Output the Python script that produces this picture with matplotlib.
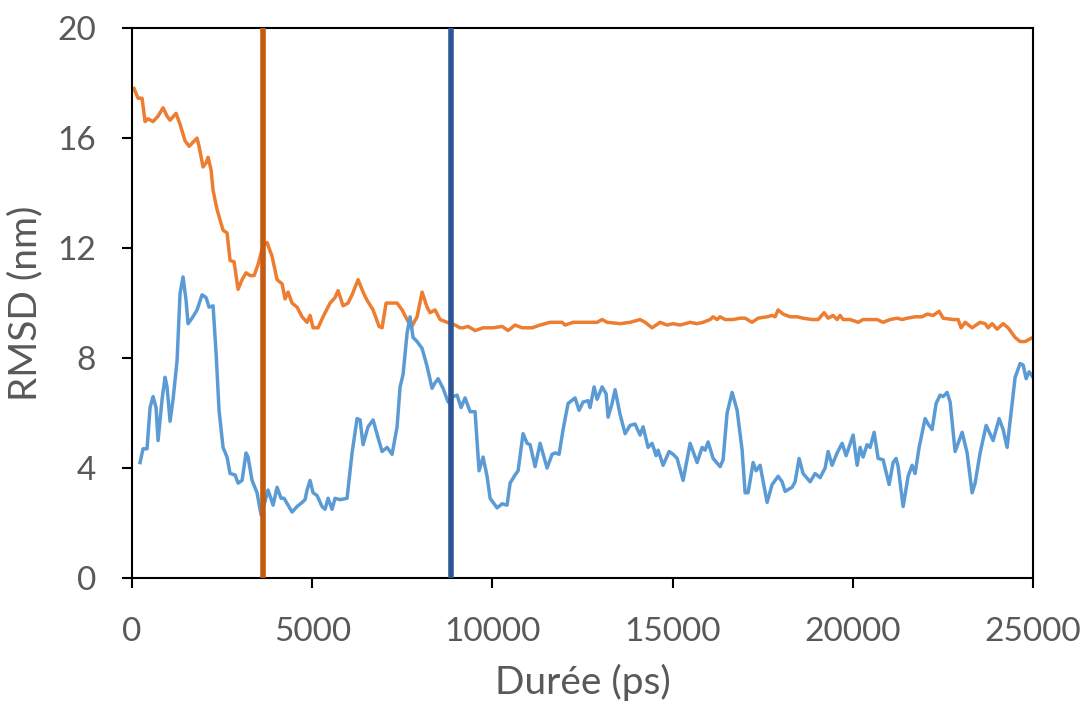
import matplotlib
matplotlib.use('Agg')
from matplotlib import pyplot as plt

# RMSD over time
orange_t = [55, 167, 278, 361, 444, 583, 722, 860, 971, 1055, 1221, 1332,
            1471, 1582, 1693, 1804, 1859, 1970, 2054, 2109, 2192, 2248, 2359,
            2525, 2636, 2720, 2831, 2942, 3053, 3164, 3275, 3386, 3497, 3635,
            3746, 3885, 4024, 4163, 4246, 4329, 4440, 4579, 4718, 4856, 4940,
            5023, 5162, 5300, 5495, 5633, 5717, 5855, 5994, 6105, 6272, 6410,
            6521, 6688, 6854, 6938, 7049, 7160, 7354, 7493, 7631, 7742, 7909,
            8048, 8186, 8270, 8408, 8547, 8741, 8963, 9102, 9185, 9324, 9518,
            9740, 10018, 10268, 10434, 10628, 10823, 11100, 11322, 11600,
            11933, 12016, 12238, 12626, 12904, 13043, 13181, 13542, 13820,
            14097, 14236, 14430, 14652, 14846, 15013, 15207, 15485, 15679,
            15845, 16040, 16123, 16234, 16317, 16456, 16678, 16872, 17011,
            17205, 17372, 17621, 17760, 17843, 17927, 18065, 18260, 18454,
            18620, 18870, 19037, 19203, 19314, 19453, 19564, 19647, 19730,
            19925, 20147, 20285, 20480, 20674, 20840, 21035, 21229, 21368,
            21506, 21728, 21923, 22061, 22228, 22394, 22505, 22783, 22922,
            23005, 23116, 23310, 23532, 23671, 23754, 23865, 24004, 24170,
            24309, 24503, 24642, 24781, 24920, 25000]
orange_rmsd = [17.8, 17.45, 17.45, 16.6, 16.7, 16.6, 16.8, 17.1, 16.8, 16.65,
               16.9, 16.5, 15.9, 15.7, 15.85, 16.0, 15.7, 14.95, 15.1, 15.3,
               14.85, 14.1, 13.4, 12.65, 12.55, 11.55, 11.5, 10.5, 10.85, 11.1,
               11.0, 11.0, 11.4, 12.1, 12.2, 11.7, 10.85, 10.7, 10.15, 10.4,
               10.0, 9.85, 9.5, 9.3, 9.55, 9.1, 9.1, 9.5, 10.0, 10.2, 10.45,
               9.9, 10.0, 10.3, 10.85, 10.4, 10.1, 9.75, 9.15, 9.1, 10.0, 10.0,
               10.0, 9.75, 9.4, 9.1, 9.5, 10.4, 9.85, 9.65, 9.75, 9.4, 9.3,
               9.2, 9.1, 9.1, 9.15, 9.0, 9.1, 9.1, 9.15, 9.0, 9.2, 9.1, 9.1,
               9.2, 9.3, 9.3, 9.2, 9.3, 9.3, 9.3, 9.4, 9.3, 9.25, 9.3, 9.4,
               9.3, 9.1, 9.3, 9.2, 9.25, 9.2, 9.3, 9.25, 9.3, 9.4, 9.5, 9.4,
               9.5, 9.4, 9.4, 9.45, 9.45, 9.3, 9.45, 9.5, 9.55, 9.5, 9.75,
               9.6, 9.5, 9.5, 9.45, 9.4, 9.4, 9.65, 9.45, 9.55, 9.4, 9.55,
               9.4, 9.4, 9.3, 9.4, 9.4, 9.4, 9.3, 9.4, 9.45, 9.4, 9.45, 9.5,
               9.5, 9.6, 9.55, 9.7, 9.45, 9.4, 9.4, 9.1, 9.3, 9.1, 9.3, 9.25,
               9.1, 9.25, 9.05, 9.25, 9.1, 8.75, 8.6, 8.6, 8.7, 8.75]

blue_t = [222, 305, 416, 500, 583, 666, 722, 833, 916, 971, 1055, 1138, 1249,
          1332, 1415, 1499, 1554, 1665, 1804, 1943, 2054, 2137, 2248, 2331,
          2414, 2525, 2636, 2720, 2858, 2942, 3053, 3164, 3219, 3330, 3469,
          3580, 3691, 3774, 3913, 4024, 4135, 4218, 4440, 4579, 4718, 4801,
          4856, 4940, 5023, 5134, 5273, 5356, 5439, 5550, 5633, 5772, 5966,
          6105, 6244, 6327, 6410, 6549, 6688, 6827, 6938, 7076, 7215, 7354,
          7437, 7520, 7631, 7715, 7798, 7909, 8048, 8186, 8325, 8408, 8492,
          8630, 8769, 8908, 9019, 9130, 9241, 9380, 9518, 9629, 9740, 9851,
          9935, 10129, 10268, 10406, 10490, 10628, 10712, 10850, 10961, 11045,
          11183, 11322, 11516, 11655, 11738, 11849, 11960, 12099, 12293,
          12404, 12515, 12654, 12710, 12821, 12904, 13043, 13154, 13209,
          13320, 13403, 13542, 13681, 13820, 13958, 14097, 14180, 14319,
          14430, 14541, 14597, 14735, 14902, 15013, 15124, 15290, 15485,
          15679, 15818, 15901, 15984, 16123, 16317, 16400, 16511, 16650,
          16789, 16928, 17011, 17094, 17233, 17316, 17427, 17621, 17760,
          17927, 18038, 18121, 18315, 18398, 18509, 18620, 18815, 18953,
          19092, 19231, 19314, 19425, 19564, 19703, 19814, 20008, 20119,
          20202, 20285, 20396, 20480, 20591, 20702, 20840, 21007, 21118,
          21201, 21257, 21395, 21534, 21645, 21728, 21839, 22006, 22089,
          22200, 22311, 22422, 22505, 22616, 22700, 22838, 23033, 23171,
          23310, 23393, 23532, 23699, 23893, 24059, 24170, 24281, 24420,
          24503, 24642, 24725, 24809, 24892, 25000]
blue_rmsd = [4.2, 4.7, 4.7, 6.2, 6.6, 6.2, 5.0, 6.5, 7.3, 6.95, 5.7, 6.5, 7.9,
             10.35, 10.95, 10.1, 9.25, 9.45, 9.75, 10.3, 10.2, 9.85, 9.9, 8.2,
             6.1, 4.75, 4.4, 3.8, 3.75, 3.45, 3.55, 4.55, 4.4, 3.55, 3.1, 2.3,
             2.8, 3.2, 2.65, 3.3, 2.9, 2.9, 2.4, 2.6, 2.75, 2.85, 3.2, 3.55,
             3.1, 3.0, 2.6, 2.5, 2.9, 2.5, 2.9, 2.85, 2.9, 4.55, 5.8, 5.75,
             4.85, 5.5, 5.75, 5.1, 4.6, 4.75, 4.5, 5.5, 6.95, 7.4, 8.9, 9.5,
             8.75, 8.6, 8.35, 7.7, 6.9, 7.1, 7.25, 6.9, 6.4, 6.6, 6.65, 6.2,
             6.55, 6.05, 6.05, 3.9, 4.4, 3.7, 2.9, 2.55, 2.7, 2.65, 3.45, 3.75,
             3.9, 5.25, 4.9, 4.85, 4.05, 4.9, 4.0, 4.5, 4.55, 4.5, 5.4, 6.35,
             6.55, 6.1, 6.4, 6.45, 6.2, 6.95, 6.5, 6.95, 6.7, 5.85, 6.35, 6.85,
             5.95, 5.25, 5.55, 5.6, 5.2, 5.5, 4.75, 4.9, 4.45, 4.65, 4.1, 4.6,
             4.5, 4.35, 3.55, 4.9, 4.2, 4.75, 4.65, 4.95, 4.35, 4.05, 4.3, 6.0,
             6.75, 6.1, 4.65, 3.1, 3.1, 4.2, 3.9, 4.1, 2.75, 3.4, 3.7, 3.5,
             3.15, 3.3, 3.5, 4.35, 3.8, 3.5, 3.8, 3.65, 4.0, 4.6, 4.1, 4.55,
             4.9, 4.45, 5.2, 4.1, 4.75, 4.4, 4.85, 4.75, 5.3, 4.35, 4.3, 3.4,
             4.2, 4.35, 4.05, 2.6, 3.7, 4.1, 3.8, 4.75, 5.8, 5.6, 5.4, 6.35,
             6.65, 6.6, 6.75, 6.4, 4.6, 5.3, 4.55, 3.1, 3.45, 4.55, 5.55, 5.0,
             5.8, 5.4, 4.75, 6.35, 7.3, 7.8, 7.75, 7.25, 7.5, 7.3]

# marker lines (ps)
event_times = [3635, 8852]
event_colors = ['#C55A11', '#2F5597']

x_ticks = [0, 5000, 10000, 15000, 20000, 25000]
y_ticks = [0, 4, 8, 12, 16, 20]


def main():
    plt.rcParams['font.family'] = ['Lato', 'DejaVu Sans']
    grey = '#595959'
    fig = plt.figure(figsize=(10.85, 7.02), dpi=100)
    ax = fig.add_axes([0.1217, 0.1766, 0.8304, 0.7834])
    ax.plot(orange_t, orange_rmsd, color='#ED7D31', linewidth=2.5,
            solid_joinstyle='round', zorder=2)
    ax.plot(blue_t, blue_rmsd, color='#5B9BD5', linewidth=2.5,
            solid_joinstyle='round', zorder=2)
    for t, c in zip(event_times, event_colors):
        ax.axvline(t, color=c, linewidth=4, zorder=3)
    ax.set_xlim(0, 25000)
    ax.set_ylim(0, 20)
    ax.set_xticks(x_ticks)
    ax.set_yticks(y_ticks)
    ax.tick_params(axis='both', direction='out', length=7, width=1.5,
                   color='black', labelsize=24, labelcolor=grey)
    ax.tick_params(axis='x', pad=21)
    ax.tick_params(axis='y', pad=19)
    for side in ['left', 'right', 'top', 'bottom']:
        ax.spines[side].set_linewidth(1.5)
        ax.spines[side].set_color('black')
    ax.set_xlabel('Durée (ps)', fontsize=28, color=grey, labelpad=12)
    ax.set_ylabel('RMSD (nm)', fontsize=28, color=grey, labelpad=10)
    fig.savefig('out.png', dpi=100)


if __name__ == '__main__':
    main()
